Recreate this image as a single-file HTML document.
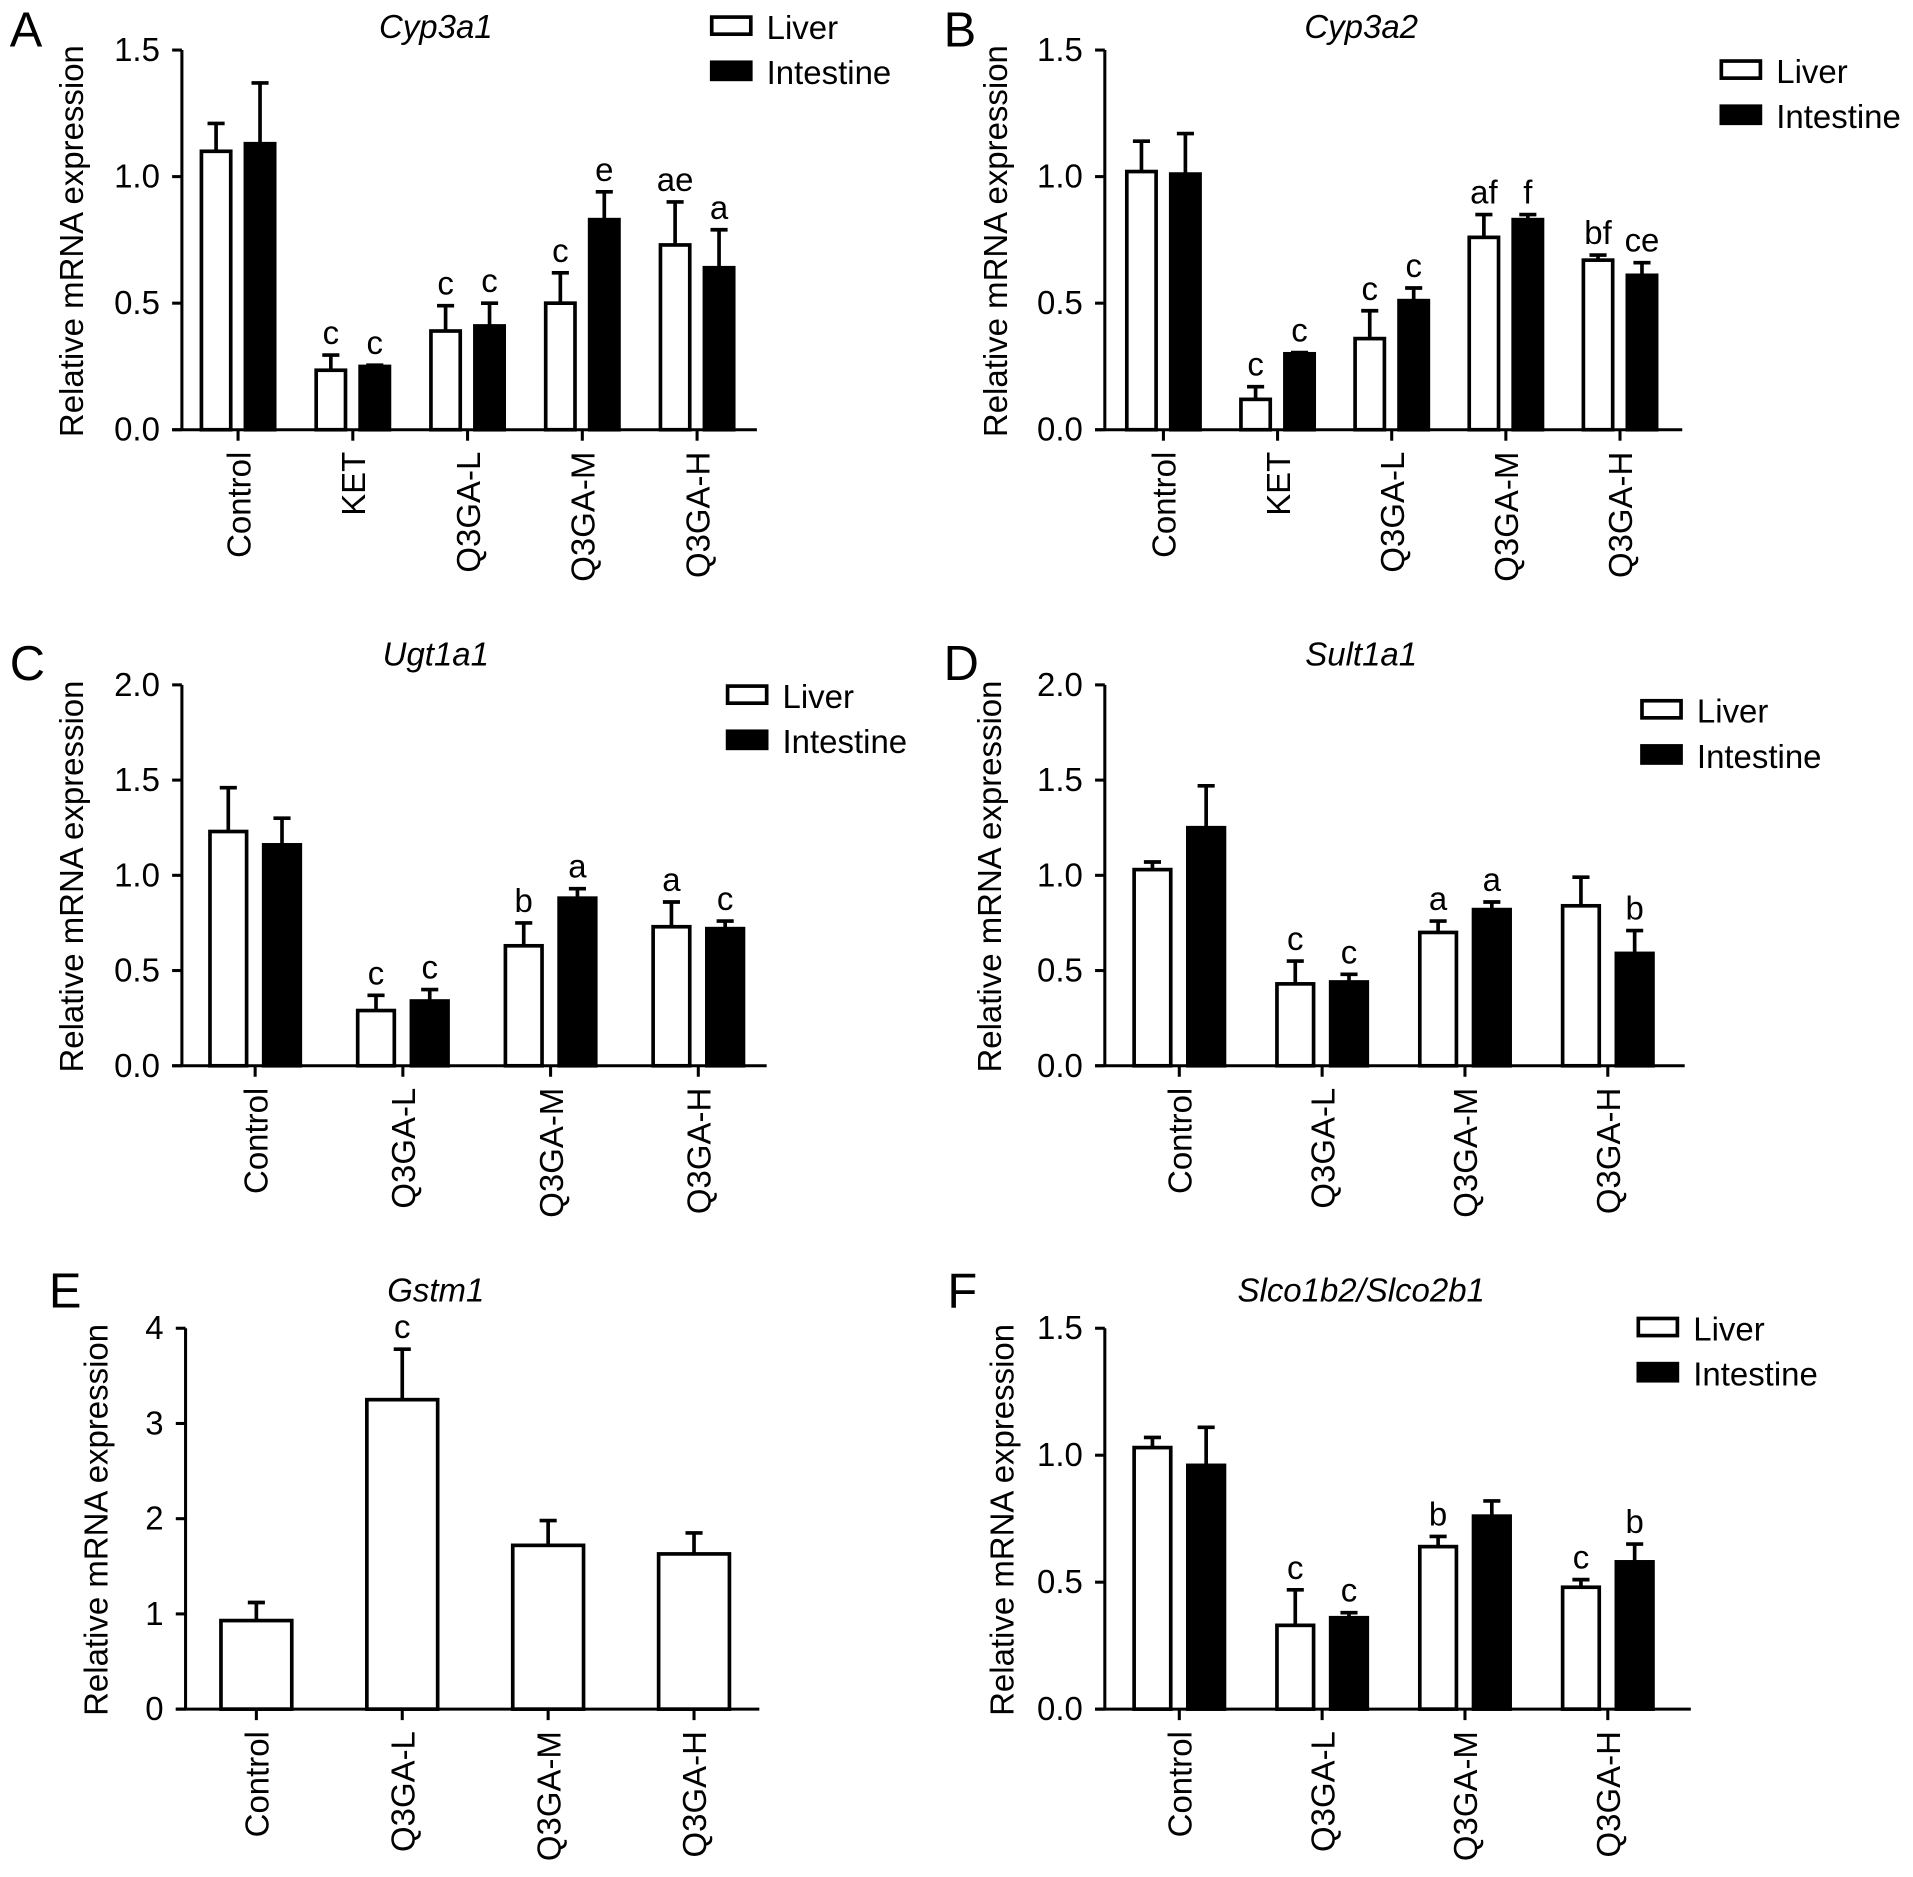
<!DOCTYPE html>
<html><head><meta charset="utf-8"><style>
html,body{margin:0;padding:0;background:#fff;}
svg{display:block;font-family:"Liberation Sans",sans-serif;}
</style></head><body>
<svg id="fig" width="1913" height="1877" viewBox="0 0 1567 1537.5" preserveAspectRatio="none" xmlns="http://www.w3.org/2000/svg"></svg>
<script>
// ---- data ----
const catsA = ["Control","KET","Q3GA-L","Q3GA-M","Q3GA-H"];
const liverA = [1.10,0.235,0.39,0.50,0.73];
const liverErrA = [1.21,0.295,0.49,0.62,0.90];
const intA = [1.13,0.25,0.41,0.83,0.64];
const intErrA = [1.37,0.255,0.50,0.94,0.79];
const sigLiverA = ["","c","c","c","ae"];
const sigIntA = ["","c","c","e","a"];

const catsB = ["Control","KET","Q3GA-L","Q3GA-M","Q3GA-H"];
const liverB = [1.02,0.12,0.36,0.76,0.67];
const liverErrB = [1.14,0.17,0.47,0.85,0.69];
const intB = [1.01,0.30,0.51,0.83,0.61];
const intErrB = [1.17,0.305,0.56,0.85,0.66];
const sigLiverB = ["","c","c","af","bf"];
const sigIntB = ["","c","c","f","ce"];

const catsC = ["Control","Q3GA-L","Q3GA-M","Q3GA-H"];
const liverC = [1.23,0.29,0.63,0.73];
const liverErrC = [1.46,0.37,0.75,0.86];
const intC = [1.16,0.34,0.88,0.72];
const intErrC = [1.30,0.40,0.93,0.76];
const sigLiverC = ["","c","b","a"];
const sigIntC = ["","c","a","c"];

const catsD = ["Control","Q3GA-L","Q3GA-M","Q3GA-H"];
const liverD = [1.03,0.43,0.70,0.84];
const liverErrD = [1.07,0.55,0.76,0.99];
const intD = [1.25,0.44,0.82,0.59];
const intErrD = [1.47,0.48,0.86,0.71];
const sigLiverD = ["","c","a",""];
const sigIntD = ["","c","a","b"];

const catsE = ["Control","Q3GA-L","Q3GA-M","Q3GA-H"];
const liverE = [0.93,3.25,1.72,1.63];
const liverErrE = [1.12,3.78,1.98,1.85];
const sigLiverE = ["","c","",""];

const catsF = ["Control","Q3GA-L","Q3GA-M","Q3GA-H"];
const liverF = [1.03,0.33,0.64,0.48];
const liverErrF = [1.07,0.47,0.68,0.51];
const intF = [0.96,0.36,0.76,0.58];
const intErrF = [1.11,0.38,0.82,0.65];
const sigLiverF = ["","c","b","c"];
const sigIntF = ["","c","","b"];

const ticks15 = ["0.0","0.5","1.0","1.5"];
const ticks20 = ["0.0","0.5","1.0","1.5","2.0"];
const ticks4 = ["0","1","2","3","4"];

// ---- drawing ----
const NS="http://www.w3.org/2000/svg";
const svg=document.getElementById('fig');
const FS=27;
function mk(tag,attrs,parent,text){const e=document.createElementNS(NS,tag);for(const k in attrs)e.setAttribute(k,attrs[k]);if(text!==undefined)e.textContent=text;(parent||svg).appendChild(e);return e;}

function panel(cfg){
  const g=mk('g',{});
  
  
  const ax=cfg.ax, y0=cfg.y0, yTop=cfg.yTop, yMax=cfg.yMax;
  const yS=v=>y0-(v/yMax)*(y0-yTop);
  const xS=i=>cfg.c0+i*cfg.step;
  let t=mk('text',{x:cfg.lx,y:cfg.ly,'font-size':40},g,cfg.letter);
  
  
  t=mk('text',{x:cfg.tx,y:cfg.ty,'font-size':27,'font-style':'italic','text-anchor':'middle'},g,cfg.title);
  
  
  t=mk('text',{x:0,y:0,'font-size':FS,'text-anchor':'middle',transform:`translate(${cfg.ylx},${(y0+yTop)/2+1}) rotate(-90)`},g,'Relative mRNA expression');
  
  
  let l=mk('line',{x1:ax,y1:yTop,x2:ax,y2:y0,stroke:'#000','stroke-width':2.5},g);
  
  
  l=mk('line',{x1:ax-8,y1:y0,x2:cfg.xEnd,y2:y0,stroke:'#000','stroke-width':2.5},g);
  
  
  cfg.ticks.forEach((lab,i)=>{
    const v=i*cfg.tickStep, y=yS(v);
    mk('line',{x1:ax-8,y1:y,x2:ax,y2:y,stroke:'#000','stroke-width':2.5},g);
    const tt=mk('text',{x:ax-18,y:y+9,'font-size':FS,'text-anchor':'end'},g,lab);
    
    
  });
  cfg.cats.forEach((c,i)=>{
    const x=xS(i);
    mk('line',{x1:x,y1:y0,x2:x,y2:y0+9,stroke:'#000','stroke-width':2.5},g);
    const tt=mk('text',{x:0,y:0,'font-size':FS,'text-anchor':'end',transform:`translate(${x+10},${y0+18}) rotate(-90)`},g,c);
    
    
  });
  const series=[];
  if(cfg.liver) series.push({vals:cfg.liver,err:cfg.liverErr,sig:cfg.sigL,fill:'#fff',off:cfg.intv?-cfg.off:0,name:'liver'});
  if(cfg.intv) series.push({vals:cfg.intv,err:cfg.intErr,sig:cfg.sigI,fill:'#000',off:cfg.off,name:'intestine'});
  series.forEach(s=>{
    s.vals.forEach((v,i)=>{
      const cx=xS(i)+s.off, w=cfg.bw, top=yS(v), et=yS(s.err[i]);
      const eb=mk('path',{d:`M${cx},${top} V${et} M${cx-7},${et} H${cx+7}`,stroke:'#000','stroke-width':3,fill:'none'},g);
      
      
      const r=mk('rect',{x:cx-w/2,y:top,width:w,height:y0-top,fill:s.fill,stroke:'#000','stroke-width':3},g);
      
      
      if(s.sig[i]){
        const st=mk('text',{x:cx,y:et-9,'font-size':FS,'text-anchor':'middle'},g,s.sig[i]);
        
        
      }
    });
  });
  if(cfg.legX!==undefined){
    const lg=mk('g',{},g);
    
    
    [['Liver','#fff',cfg.legY],['Intestine','#000',cfg.legY+37]].forEach(([lab,f,y])=>{
      mk('rect',{x:cfg.legX,y:y-8,width:32,height:14,fill:f,stroke:'#000','stroke-width':3},lg);
      const tt=mk('text',{x:cfg.legX+45,y:y+10,'font-size':27},lg,lab);
      
      
    });
  }
}

panel({letter:'A',lx:8,ly:38,title:'Cyp3a1',tx:357,ty:31,ylx:68,ax:149,y0:352,yTop:41,yMax:1.5,tickStep:0.5,ticks:ticks15,
  cats:catsA,c0:195,step:94,xEnd:620,bw:24,off:18,liver:liverA,liverErr:liverErrA,intv:intA,intErr:intErrA,sigL:sigLiverA,sigI:sigIntA,legX:583,legY:22});
panel({letter:'B',lx:773,ly:38,title:'Cyp3a2',tx:1115,ty:31,ylx:825,ax:905,y0:352,yTop:41,yMax:1.5,tickStep:0.5,ticks:ticks15,
  cats:catsB,c0:953,step:93.5,xEnd:1378,bw:24,off:18,liver:liverB,liverErr:liverErrB,intv:intB,intErr:intErrB,sigL:sigLiverB,sigI:sigIntB,legX:1410,legY:58});
panel({letter:'C',lx:8,ly:557,title:'Ugt1a1',tx:357,ty:545,ylx:68,ax:149,y0:873,yTop:561,yMax:2.0,tickStep:0.5,ticks:ticks20,
  cats:catsC,c0:209,step:121,xEnd:628,bw:30,off:22,liver:liverC,liverErr:liverErrC,intv:intC,intErr:intErrC,sigL:sigLiverC,sigI:sigIntC,legX:596,legY:570});
panel({letter:'D',lx:773,ly:557,title:'Sult1a1',tx:1115,ty:545,ylx:820,ax:905,y0:873,yTop:561,yMax:2.0,tickStep:0.5,ticks:ticks20,
  cats:catsD,c0:966,step:117,xEnd:1380,bw:30,off:22,liver:liverD,liverErr:liverErrD,intv:intD,intErr:intErrD,sigL:sigLiverD,sigI:sigIntD,legX:1345,legY:582});
panel({letter:'E',lx:40,ly:1071,title:'Gstm1',tx:357,ty:1066,ylx:88,ax:152,y0:1400,yTop:1088,yMax:4,tickStep:1,ticks:ticks4,
  cats:catsE,c0:210,step:119.5,xEnd:622,bw:58,off:0,liver:liverE,liverErr:liverErrE,sigL:sigLiverE});
panel({letter:'F',lx:776,ly:1071,title:'Slco1b2/Slco2b1',tx:1115,ty:1066,ylx:830,ax:905,y0:1400,yTop:1088,yMax:1.5,tickStep:0.5,ticks:ticks15,
  cats:catsF,c0:966,step:117,xEnd:1385,bw:30,off:22,liver:liverF,liverErr:liverErrF,intv:intF,intErr:intErrF,sigL:sigLiverF,sigI:sigIntF,legX:1342,legY:1088});
</script>
</body></html>
